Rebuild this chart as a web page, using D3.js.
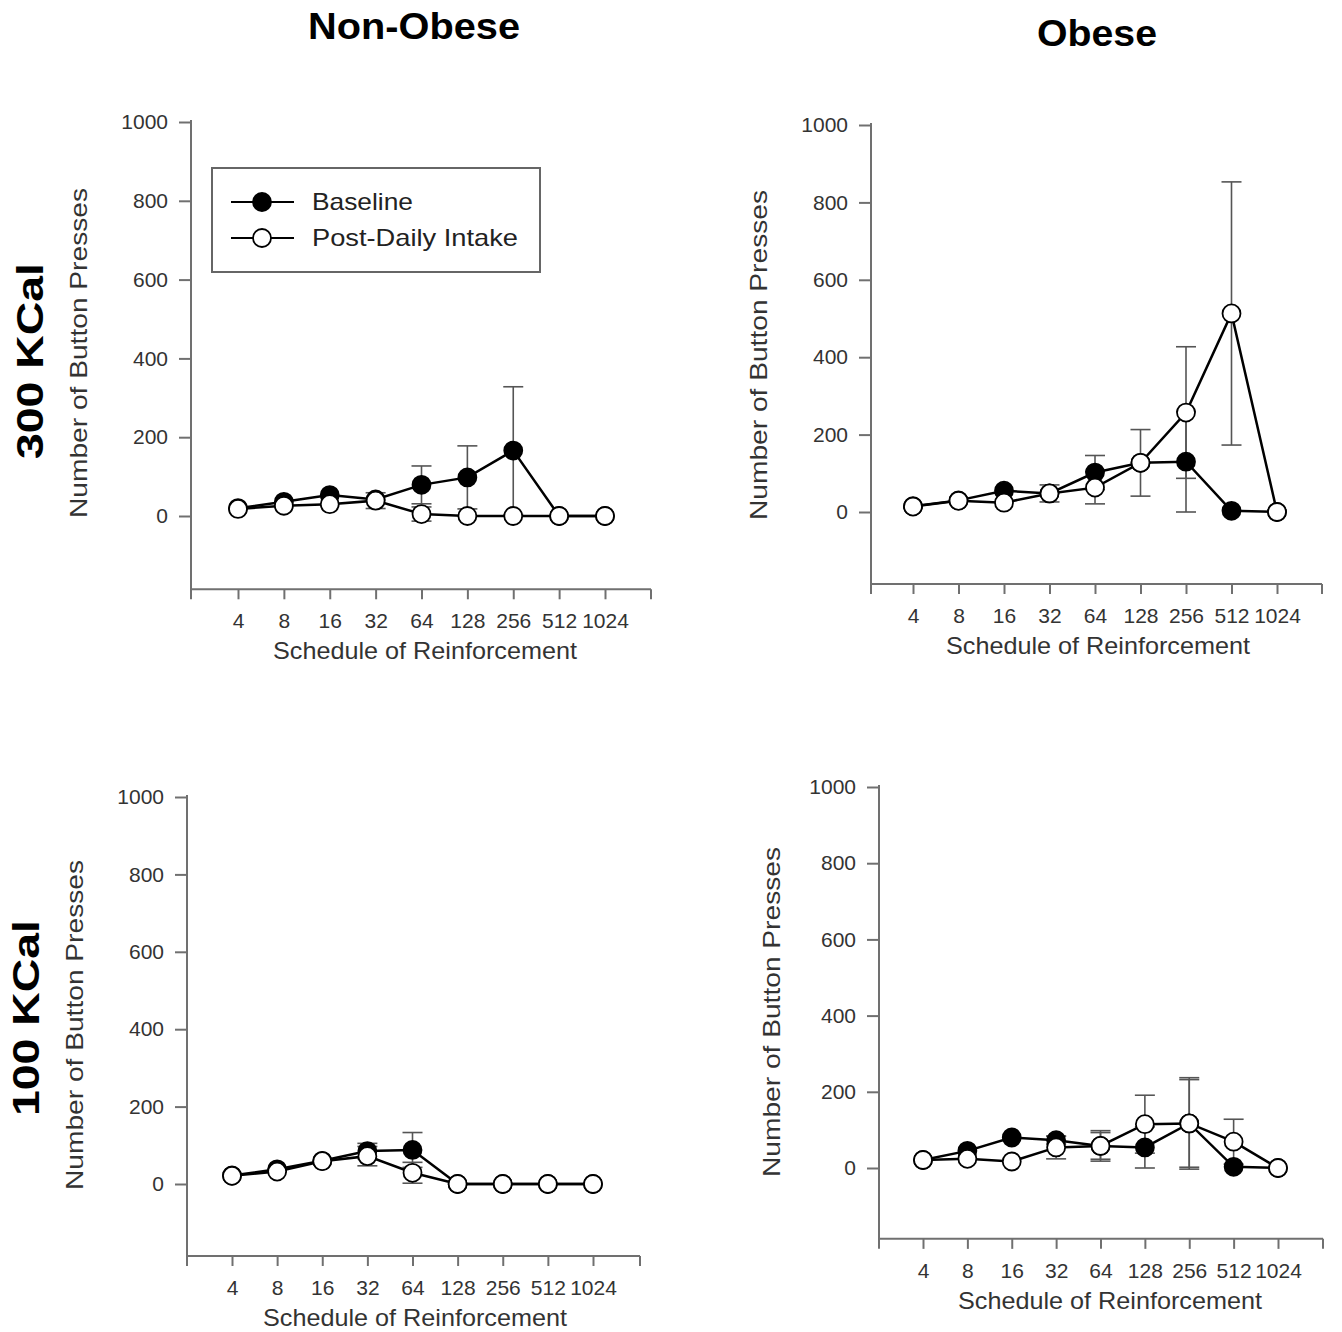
<!DOCTYPE html>
<html>
<head>
<meta charset="utf-8">
<script src="https://cdn.jsdelivr.net/npm/d3@7"></script>
<style>
  body { margin: 0; background: #fff; }
  svg text { font-family: "Liberation Sans", Arial, sans-serif; }
</style>
</head>
<body>
<script>
// schedule labels (x categories)
var schedules = ["4", "8", "16", "32", "64", "128", "256", "512", "1024"];
var yTicks = [0, 200, 400, 600, 800, 1000];

// Non-Obese, 300 KCal
var nonObese300Base = [20, 36, 53, 42, 79, 98, 166, 0, 0];
var nonObese300BaseErr = [0, 0, 0, 0, 48, 80, 162, 0, 0];
var nonObese300Post = [18, 26, 30, 39, 5, 0, 0, 0, 0];
var nonObese300PostErr = [0, 0, 0, 20, 18, 0, 0, 0, 0];

// Obese, 300 KCal
var obese300Base = [15, 30, 55, 48, 102, 127, 130, 3, 0];
var obese300BaseErr = [0, 0, 0, 0, 44, 0, 130, 0, 0];
var obese300Post = [14, 29, 24, 48, 63, 127, 257, 513, 0];
var obese300PostErr = [0, 0, 0, 22, 42, 86, 170, 340, 0];

// Non-Obese, 100 KCal
var nonObese100Base = [22, 38, 60, 85, 88, 0, 0, 0, 0];
var nonObese100BaseErr = [0, 0, 0, 20, 45, 0, 0, 0, 0];
var nonObese100Post = [21, 32, 59, 72, 29, 0, 0, 0, 0];
var nonObese100PostErr = [0, 0, 0, 25, 27, 0, 0, 0, 0];

// Obese, 100 KCal
var obese100Base = [21, 45, 80, 73, 58, 54, 117, 3, 0];
var obese100BaseErr = [0, 0, 0, 10, 35, 54, 115, 0, 0];
var obese100Post = [21, 24, 17, 54, 58, 115, 117, 69, 0];
var obese100PostErr = [0, 0, 0, 30, 40, 76, 120, 59, 0];

var yFloor = -186; // bottom of the value axis

// panel frames (pixel layout)
var panels = [
    {base: nonObese300Base, baseErr: nonObese300BaseErr, post: nonObese300Post, postErr: nonObese300PostErr,
     yAxisX: 191, x0: 238, x8: 605, xEnd: 651, y0: 516, y1000: 122, yLabX: 87, yLabY: 353, xLabX: 425, legend: true},
    {base: obese300Base, baseErr: obese300BaseErr, post: obese300Post, postErr: obese300PostErr,
     yAxisX: 871, x0: 913, x8: 1277, xEnd: 1322, y0: 512, y1000: 125, yLabX: 767, yLabY: 355, xLabX: 1098},
    {base: nonObese100Base, baseErr: nonObese100BaseErr, post: nonObese100Post, postErr: nonObese100PostErr,
     yAxisX: 187, x0: 232, x8: 593, xEnd: 640, y0: 1184, y1000: 797, yLabX: 83, yLabY: 1025, xLabX: 415},
    {base: obese100Base, baseErr: obese100BaseErr, post: obese100Post, postErr: obese100PostErr,
     yAxisX: 879, x0: 923, x8: 1278, xEnd: 1323, y0: 1168, y1000: 787, yLabX: 780, yLabY: 1012, xLabX: 1110}
];

var axisColor = "#707070",
    textColor = "#333",
    radius = 9;

var svg = d3.select("body")
    .append("svg")
    .attr("width", 1342)
    .attr("height", 1332);

svg.append("rect").attr("width", 1342).attr("height", 1332).attr("fill", "#fff");

// column and row titles
svg.append("text").attr("x", 414).attr("y", 39).attr("text-anchor", "middle")
    .attr("font-size", 36).attr("font-weight", "bold")
    .attr("textLength", 212).attr("lengthAdjust", "spacingAndGlyphs").text("Non-Obese");
svg.append("text").attr("x", 1097).attr("y", 46).attr("text-anchor", "middle")
    .attr("font-size", 36).attr("font-weight", "bold")
    .attr("textLength", 120).attr("lengthAdjust", "spacingAndGlyphs").text("Obese");
svg.append("text").attr("transform", "translate(43,361) rotate(-90)").attr("text-anchor", "middle")
    .attr("font-size", 36).attr("font-weight", "bold")
    .attr("textLength", 196).attr("lengthAdjust", "spacingAndGlyphs").text("300 KCal");
svg.append("text").attr("transform", "translate(39,1018) rotate(-90)").attr("text-anchor", "middle")
    .attr("font-size", 36).attr("font-weight", "bold")
    .attr("textLength", 196).attr("lengthAdjust", "spacingAndGlyphs").text("100 KCal");

panels.forEach(drawPanel);

function drawPanel(p){
    var x = d3.scaleLinear().domain([0, 8]).range([p.x0, p.x8]);
    var y = d3.scaleLinear().domain([0, 1000]).range([p.y0, p.y1000]);
    var floorY = y(yFloor);
    var g = svg.append("g");

    // y axis
    var ya = g.append("g")
        .attr("transform", "translate(" + p.yAxisX + ",0)")
        .call(d3.axisLeft(y).tickValues(yTicks).tickFormat(d3.format("d"))
            .tickSize(12).tickPadding(11));
    ya.select(".domain").remove();
    g.append("line")
        .attr("x1", p.yAxisX).attr("x2", p.yAxisX)
        .attr("y1", y(1000) - 2).attr("y2", floorY)
        .attr("stroke", axisColor).attr("stroke-width", 2);

    // x axis
    var xa = g.append("g")
        .attr("transform", "translate(0," + floorY + ")")
        .call(d3.axisBottom(x).tickValues(d3.range(schedules.length))
            .tickFormat(function(i){ return schedules[i]; })
            .tickSize(10).tickPadding(14));
    xa.select(".domain").remove();
    g.append("line")
        .attr("x1", p.yAxisX - 1).attr("x2", p.xEnd)
        .attr("y1", floorY).attr("y2", floorY)
        .attr("stroke", axisColor).attr("stroke-width", 2);
    [p.yAxisX, p.xEnd].forEach(function(ex){
        g.append("line").attr("x1", ex).attr("x2", ex)
            .attr("y1", floorY).attr("y2", floorY + 10)
            .attr("stroke", axisColor).attr("stroke-width", 2);
    });

    g.selectAll(".tick line").attr("stroke", axisColor).attr("stroke-width", 2);
    g.selectAll(".tick text").attr("font-size", 21).attr("fill", textColor)
        .attr("font-family", "Liberation Sans, Arial, sans-serif");

    // axis titles
    g.append("text")
        .attr("x", p.xLabX).attr("y", floorY + 70)
        .attr("text-anchor", "middle").attr("font-size", 24).attr("fill", textColor)
        .attr("textLength", 304).attr("lengthAdjust", "spacingAndGlyphs")
        .text("Schedule of Reinforcement");
    g.append("text")
        .attr("transform", "translate(" + p.yLabX + "," + p.yLabY + ") rotate(-90)")
        .attr("text-anchor", "middle").attr("font-size", 24).attr("fill", textColor)
        .attr("textLength", 330).attr("lengthAdjust", "spacingAndGlyphs")
        .text("Number of Button Presses");

    // error bars
    function errorBars(vals, errs){
        vals.forEach(function(v, i){
            var e = errs[i];
            if (!e) return;
            var cx = x(i), top = y(v + e), bot = y(v - e);
            g.append("line").attr("x1", cx).attr("x2", cx).attr("y1", top).attr("y2", bot)
                .attr("stroke", "#555").attr("stroke-width", 1.6);
            [top, bot].forEach(function(cy){
                g.append("line").attr("x1", cx - 10).attr("x2", cx + 10).attr("y1", cy).attr("y2", cy)
                    .attr("stroke", "#555").attr("stroke-width", 1.6);
            });
        });
    }
    errorBars(p.base, p.baseErr);
    errorBars(p.post, p.postErr);

    var line = d3.line()
        .x(function(d, i){ return x(i); })
        .y(function(d){ return y(d); });

    g.append("path").datum(p.base).attr("d", line)
        .attr("fill", "none").attr("stroke", "#000").attr("stroke-width", 2.5);
    g.append("path").datum(p.post).attr("d", line)
        .attr("fill", "none").attr("stroke", "#000").attr("stroke-width", 2.5);

    g.selectAll(".base-dot").data(p.base).enter().append("circle")
        .attr("class", "base-dot")
        .attr("cx", function(d, i){ return x(i); })
        .attr("cy", function(d){ return y(d); })
        .attr("r", radius).attr("fill", "#000").attr("stroke", "#000").attr("stroke-width", 1.8);
    g.selectAll(".post-dot").data(p.post).enter().append("circle")
        .attr("class", "post-dot")
        .attr("cx", function(d, i){ return x(i); })
        .attr("cy", function(d){ return y(d); })
        .attr("r", radius).attr("fill", "#fff").attr("stroke", "#000").attr("stroke-width", 1.8);

    if (p.legend) drawLegend();
}

function drawLegend(){
    var lg = svg.append("g");
    lg.append("rect").attr("x", 212).attr("y", 168).attr("width", 328).attr("height", 104)
        .attr("fill", "#fff").attr("stroke", "#666").attr("stroke-width", 2);
    var rows = [
        {label: "Baseline", fill: "#000", cy: 202, w: 101},
        {label: "Post-Daily Intake", fill: "#fff", cy: 238, w: 206}
    ];
    rows.forEach(function(r){
        lg.append("line").attr("x1", 231).attr("x2", 294).attr("y1", r.cy).attr("y2", r.cy)
            .attr("stroke", "#000").attr("stroke-width", 2.2);
        lg.append("circle").attr("cx", 262).attr("cy", r.cy).attr("r", radius)
            .attr("fill", r.fill).attr("stroke", "#000").attr("stroke-width", 1.8);
        lg.append("text").attr("x", 312).attr("y", r.cy + 8).attr("font-size", 24).attr("fill", "#222")
            .attr("textLength", r.w).attr("lengthAdjust", "spacingAndGlyphs").text(r.label);
    });
}
</script>
</body>
</html>
